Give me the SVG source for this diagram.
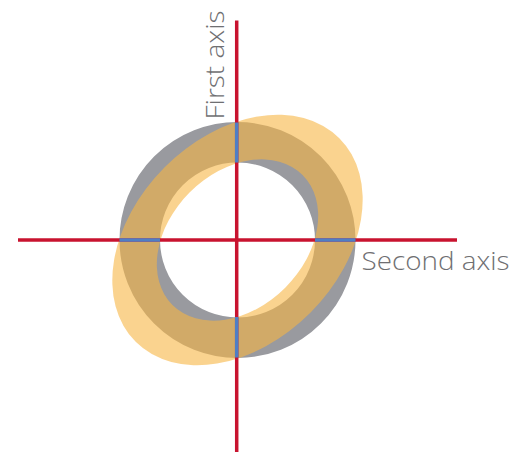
<svg xmlns="http://www.w3.org/2000/svg" width="527" height="462" viewBox="0 0 527 462">
<style>
.lbl{font-family:"Open Sans","Liberation Sans",sans-serif;font-weight:300;font-size:26px;fill:#6f6f72}
.red{stroke:#c8132f;stroke-width:3.5;fill:none}
.blue{stroke:#4f7ec4;stroke-width:3.5;fill:none}
</style>
<rect width="527" height="462" fill="#ffffff"/>
<g id="gray-ring">
<circle cx="237.5" cy="240" r="97.75" fill="none" stroke="#999a9f" stroke-width="40.5"/>
</g>
<g id="orange-ring">
<path transform="translate(237.5,240) rotate(-45)" fill="#f7b545" fill-opacity="0.6" fill-rule="evenodd" d="M144 0A144 103 0 1 0 -144 0A144 103 0 1 0 144 0ZM92 0A92 67.5 0 1 0 -92 0A92 67.5 0 1 0 92 0Z"/>
</g>
<g id="connectors">
<line class="red" x1="236.7" y1="20.5" x2="236.7" y2="452"/>
<line class="red" x1="18" y1="240" x2="457" y2="240"/>
<line class="blue" x1="236.7" y1="122.5" x2="236.7" y2="162.5"/>
<line class="blue" x1="236.7" y1="317" x2="236.7" y2="357.5"/>
<line class="blue" x1="119.5" y1="240" x2="160" y2="240"/>
<line class="blue" x1="315" y1="240" x2="355.5" y2="240"/>
</g>
<g id="first-axis-label">
<text class="lbl" transform="translate(224,119.5) rotate(-90)" textLength="109" lengthAdjust="spacingAndGlyphs">First axis</text>
</g>
<g id="second-axis-label">
<text class="lbl" x="361.5" y="270" textLength="148" lengthAdjust="spacingAndGlyphs">Second axis</text>
</g>
</svg>
